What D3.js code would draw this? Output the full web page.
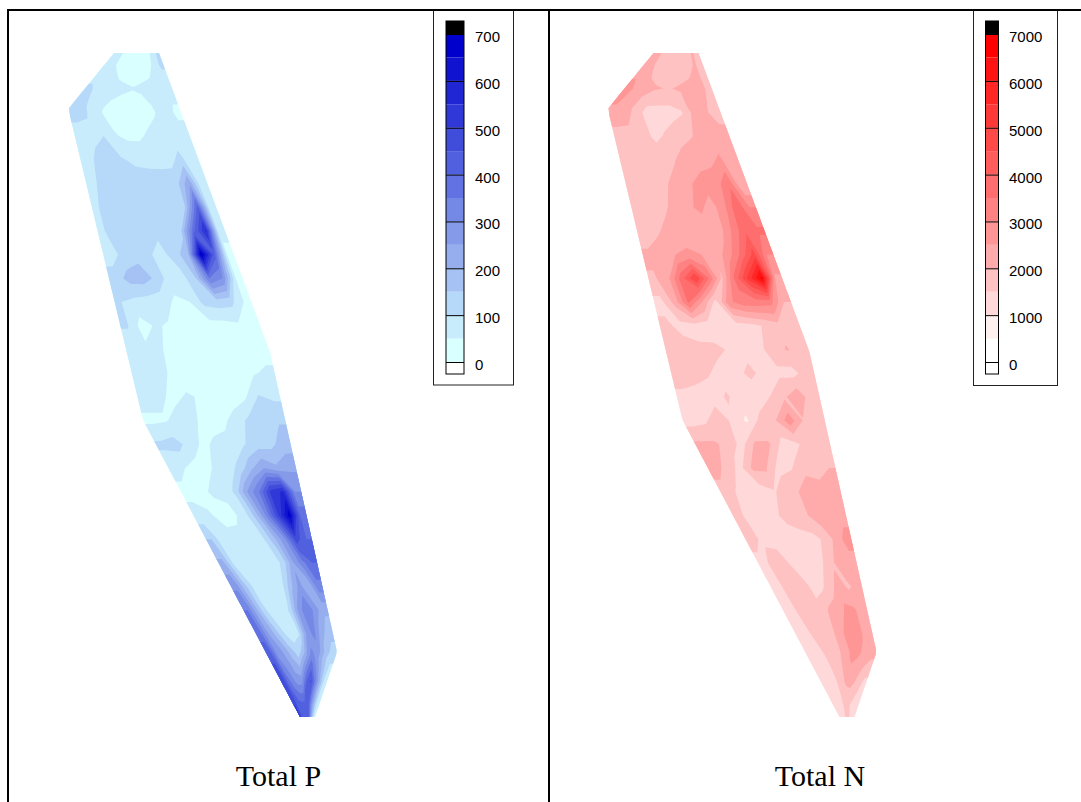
<!DOCTYPE html>
<html>
<head>
<meta charset="utf-8">
<script src="https://cdn.jsdelivr.net/npm/d3@7"></script>
<style>
  html, body { margin: 0; padding: 0; background: #fff; }
  svg { display: block; }
</style>
</head>
<body>
<svg width="1081" height="802"></svg>
<script>
// site outline, in site units from the top of the survey area
var leftEdgeY = [0, 55, 63, 367, 664];
var leftEdgeX = [54, 9, 10, 83, 240];
var rightEdgeY = [0, 299, 599, 664];
var rightEdgeX = [99, 210, 277, 255];

// contour levels and legend ticks
var levelsP = [0, 50, 100, 150, 200, 250, 300, 350, 400, 450, 500, 550, 600, 650, 700];
var levelsN = [0, 500, 1000, 1500, 2000, 2500, 3000, 3500, 4000, 4500, 5000, 5500, 6000, 6500, 7000];
var ticksP = [0, 100, 200, 300, 400, 500, 600, 700];
var ticksN = [0, 1000, 2000, 3000, 4000, 5000, 6000, 7000];

var coloursP = ["#d9ffff", "#c8ecfc", "#b6d8f9", "#a6c1f3", "#96aeee", "#859bea", "#7488e6", "#6272e2",
  "#5160de", "#404ddb", "#3039d8", "#2026d4", "#1013d0", "#0000cc", "#000000"];
var coloursN = ["#ffffff", "#fff0f0", "#ffd9d9", "#ffc2c2", "#ffabab", "#ff9696", "#ff8282", "#ff6e6e",
  "#ff5c5c", "#ff4a4a", "#ff3838", "#ff2626", "#ff1414", "#ff0000", "#000000"];

// measured values, one row per band across the site, top to bottom
var totalP = [
  [60, 55, 45, 25, 20, 20, 25, 35, 70, 110],
  [110, 85, 70, 65, 58, 52, 58, 62, 65, 60],
  [115, 105, 60, 35, 25, 25, 25, 45, 70, 45],
  [80, 85, 100, 55, 40, 40, 60, 70, 70, 60],
  [75, 115, 125, 105, 90, 85, 80, 80, 120, 50],
  [85, 125, 130, 130, 125, 125, 130, 135, 240, 55],
  [98, 130, 130, 130, 130, 130, 130, 150, 420, 55],
  [98, 130, 130, 130, 110, 130, 130, 380, 560, 55],
  [75, 115, 135, 105, 85, 125, 190, 700, 420, 45],
  [125, 170, 175, 140, 75, 80, 150, 350, 300, 45],
  [100, 85, 75, 70, 40, 50, 115, 125, 115, 45],
  [105, 30, 55, 45, 20, 25, 30, 30, 40, 45],
  [65, 60, 52, 30, 20, 20, 20, 20, 25, 30],
  [70, 70, 50, 30, 20, 20, 25, 30, 45, 60],
  [70, 60, 40, 55, 45, 25, 25, 40, 105, 90],
  [40, 45, 65, 60, 30, 35, 70, 115, 125, 145],
  [110, 125, 75, 40, 60, 70, 95, 125, 135, 175],
  [70, 45, 30, 52, 75, 110, 190, 250, 210, 240],
  [35, 35, 55, 60, 110, 250, 350, 520, 560, 300],
  [70, 55, 35, 40, 70, 170, 320, 500, 680, 380],
  [150, 65, 65, 65, 80, 100, 190, 300, 480, 400],
  [210, 90, 65, 55, 60, 75, 110, 240, 330, 400],
  [290, 170, 85, 60, 60, 75, 180, 270, 200, 330],
  [350, 220, 110, 70, 60, 110, 260, 350, 280, 210],
  [380, 260, 190, 110, 70, 90, 250, 320, 220, 170],
  [440, 300, 260, 200, 150, 240, 340, 250, 160, 110],
  [480, 380, 320, 280, 280, 400, 460, 320, 190, 70],
  [500, 440, 420, 420, 420, 450, 340, 230, 130, 50]
];

var totalN = [
  [2200, 2100, 1800, 1700, 1550, 1550, 1600, 1800, 2050, 1900],
  [2700, 2300, 2150, 2050, 2000, 2000, 2100, 2150, 2150, 1950],
  [2400, 2300, 1700, 1300, 1300, 1300, 1450, 2100, 2100, 1850],
  [1750, 1750, 1700, 1400, 1550, 1800, 1950, 2100, 2200, 2150],
  [1700, 1700, 1700, 1750, 1950, 2200, 2300, 2350, 2600, 2000],
  [1700, 1750, 1800, 2000, 2200, 2500, 2700, 2800, 3400, 2000],
  [1700, 1750, 1850, 2200, 2400, 2600, 2300, 2900, 3900, 3000],
  [1700, 1900, 2200, 2250, 2250, 2250, 2300, 3100, 3900, 3600],
  [2100, 2300, 2500, 2600, 2500, 2200, 2700, 3600, 4700, 3000],
  [1950, 2400, 3800, 5000, 3500, 1900, 3700, 5200, 6700, 2400],
  [1350, 2200, 3600, 2500, 1300, 2900, 3300, 3300, 3200, 2000],
  [1600, 1350, 1300, 1250, 1250, 1300, 1350, 1550, 1800, 1800],
  [1650, 1700, 1600, 1600, 1450, 1300, 1350, 1750, 2050, 1700],
  [1800, 1700, 1550, 1350, 1300, 1650, 1300, 1400, 1300, 1800],
  [1350, 1300, 1300, 1550, 1300, 1100, 1500, 1900, 2400, 1600],
  [1300, 1400, 1800, 1400, 900, 1700, 1950, 2800, 1950, 1900],
  [2100, 2100, 1700, 1350, 2150, 2050, 1300, 1400, 1800, 1850],
  [2200, 1850, 1300, 2100, 2100, 1350, 1450, 1850, 1850, 2000],
  [1800, 1400, 1300, 1250, 1450, 1800, 2000, 2300, 2150, 2300],
  [1600, 1350, 1250, 1300, 1650, 1800, 1950, 2300, 2500, 2300],
  [1750, 1400, 1350, 1300, 1250, 1300, 1350, 1600, 2150, 2700],
  [1300, 1700, 1700, 1350, 1300, 1450, 1450, 1900, 2350, 2300],
  [1350, 1550, 1800, 1800, 1400, 1350, 1800, 2250, 1900, 2200],
  [1300, 1500, 1800, 1800, 1600, 2100, 2200, 2600, 2600, 2100],
  [1250, 1350, 1700, 1800, 1800, 2150, 2600, 2700, 2600, 2050],
  [1200, 1300, 1450, 1700, 1850, 2200, 2600, 2500, 2250, 2050],
  [1200, 1250, 1350, 1500, 1800, 2100, 2200, 2000, 1700, 1400],
  [1250, 1300, 1350, 1400, 1600, 1600, 1500, 1350, 1250, 1100]
];

var svg = d3.select("svg");

var nRows = totalP.length,
    nCols = totalP[0].length;

var leftEdge = d3.scaleLinear().domain(leftEdgeY).range(leftEdgeX),
    rightEdge = d3.scaleLinear().domain(rightEdgeY).range(rightEdgeX),
    rowToSite = d3.scaleLinear().domain([0, nRows]).range([0, 664]).clamp(true),
    colToWidth = d3.scaleLinear().domain([0, nCols]).range([0, 1]).clamp(true);

var line = d3.line();

// repeat the border values one cell outwards so contours run straight out to the site edge
function padGrid(rows) {
  var wide = rows.map(function(r) { return [r[0]].concat(r, [r[r.length - 1]]); });
  return d3.merge([[wide[0]], wide, [wide[wide.length - 1]]]);
}

function drawPanel(conf) {
  var x = d3.scaleLinear().domain([0, 300]).range([conf.left, conf.left + 300]),
      y = d3.scaleLinear().domain([0, 664]).range([53, 717]);

  // padded grid position -> pixel, the grid follows the slant of the site
  function toPixel(p) {
    var sy = rowToSite(p[1] - 1),
        l = leftEdge(sy),
        r = rightEdge(sy);
    return [x(l + colToWidth(p[0] - 1) * (r - l)), y(sy)];
  }

  // break long ring segments so the site corners survive the mapping
  function ringPath(ring) {
    var pts = [];
    for (var i = 0; i < ring.length - 1; i++) {
      var a = ring[i], b = ring[i + 1],
          steps = Math.max(1, Math.ceil(Math.max(Math.abs(b[0] - a[0]), Math.abs(b[1] - a[1])) * 6));
      for (var k = 0; k < steps; k++) {
        pts.push(toPixel([a[0] + (b[0] - a[0]) * k / steps, a[1] + (b[1] - a[1]) * k / steps]));
      }
    }
    return line(pts) + "Z";
  }

  var contours = d3.contours()
      .size([nCols + 2, nRows + 2])
      .smooth(true)
      .thresholds(conf.levels)(d3.merge(padGrid(conf.values)));

  svg.append("g")
    .selectAll("path")
    .data(contours)
    .enter().append("path")
      .attr("d", function(d) {
        return d.coordinates.map(function(poly) {
          return poly.map(ringPath).join("");
        }).join("");
      })
      .attr("fill-rule", "evenodd")
      .attr("fill", function(d, i) { return conf.colours[i]; });

  // legend
  var legend = svg.append("g");
  legend.append("rect")
      .attr("x", conf.frame[0] + 0.5)
      .attr("y", 10.5)
      .attr("width", conf.frame[1] - conf.frame[0])
      .attr("height", conf.frameBottom - 10.5)
      .attr("fill", "#fff")
      .attr("stroke", "#222")
      .attr("stroke-width", 1);

  var top = conf.levels[conf.levels.length - 1],
      step = conf.levels[1] - conf.levels[0],
      scale = d3.scaleLinear().domain([0, top]).range([362, 34]);

  legend.selectAll(".band")
    .data(conf.levels)
    .enter().append("rect")
      .attr("class", "band")
      .attr("x", conf.barX)
      .attr("width", conf.barW)
      .attr("y", function(d, i) { return i == conf.levels.length - 1 ? 21 : scale(d + step); })
      .attr("height", function(d, i) { return i == conf.levels.length - 1 ? 13 : scale(d) - scale(d + step); })
      .attr("fill", function(d, i) { return conf.colours[i]; });

  legend.append("rect")
      .attr("x", conf.barX)
      .attr("y", 21)
      .attr("width", conf.barW)
      .attr("height", 353)
      .attr("fill", "none")
      .attr("stroke", "#000")
      .attr("stroke-width", 1);

  var axis = legend.append("g")
      .attr("transform", "translate(" + conf.barX + ",0)")
      .call(d3.axisRight(scale).tickValues(conf.ticks).tickSize(conf.barW).tickPadding(conf.labelX - conf.barX - conf.barW).tickFormat(d3.format("d")));
  axis.select(".domain").remove();
  axis.selectAll("line").attr("stroke", "#000");
  axis.selectAll("text")
      .attr("fill", "#000")
      .attr("dy", "0.5em")
      .style("font", "15px 'Liberation Sans', Arial, sans-serif");

  svg.append("text")
      .attr("x", conf.titleX)
      .attr("y", 786)
      .attr("text-anchor", "middle")
      .style("font", "30px 'Liberation Serif', 'Times New Roman', serif")
      .attr("fill", "#000")
      .text(conf.title);
}

drawPanel({
  left: 60, values: totalP, levels: levelsP, colours: coloursP, ticks: ticksP,
  frame: [433, 513], frameBottom: 385, barX: 446, barW: 18, labelX: 475,
  title: "Total P", titleX: 278.5
});
drawPanel({
  left: 599.5, values: totalN, levels: levelsN, colours: coloursN, ticks: ticksN,
  frame: [973, 1057], frameBottom: 385.5, barX: 985.5, barW: 13, labelX: 1009,
  title: "Total N", titleX: 820
});

// panel rules
svg.append("path")
    .attr("d", "M8,802V10H1081M549,10V802")
    .attr("fill", "none")
    .attr("stroke", "#000")
    .attr("stroke-width", 2);
</script>
</body>
</html>
